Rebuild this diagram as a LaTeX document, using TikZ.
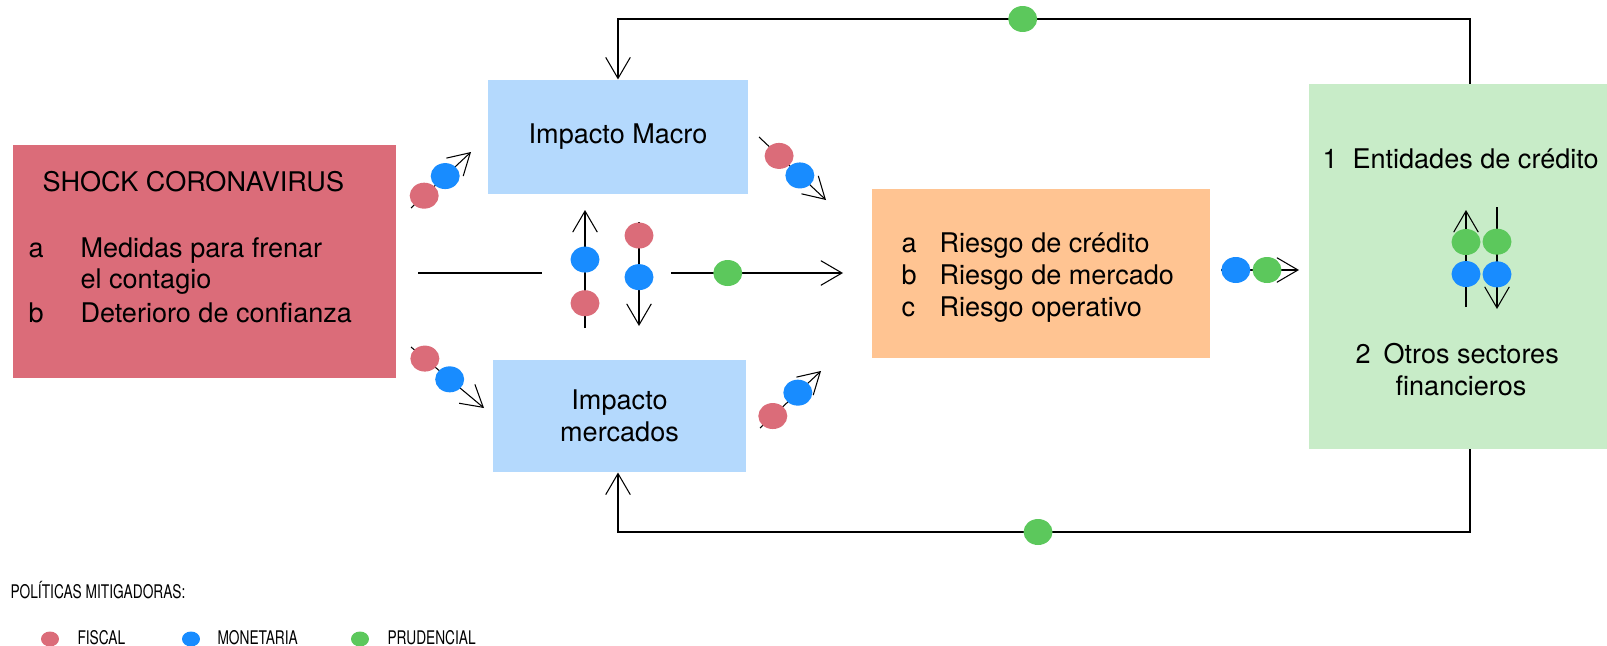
\documentclass[tikz,border=0pt]{standalone}
\usepackage{fontspec}
\setmainfont{TeX Gyre Heros}
\newfontfamily\condfont[FakeStretch=0.73]{TeX Gyre Heros}
\usetikzlibrary{shapes.geometric,arrows.meta}

\definecolor{shockred}{RGB}{219,108,121}
\definecolor{macroblue}{RGB}{180,217,253}
\definecolor{riskorange}{RGB}{255,196,146}
\definecolor{sectorgreen}{RGB}{200,236,200}
\definecolor{polred}{RGB}{219,108,121}
\definecolor{polblue}{RGB}{24,140,255}
\definecolor{polgreen}{RGB}{92,200,92}

\begin{document}
\begin{tikzpicture}[x=0.02cm,y=-0.02cm,line width=0.6pt,
        >={Straight Barb[length=12pt,width=14pt]},
        font=\fontsize{15.4}{18.2}\selectfont,
        panel/.style={rectangle,inner sep=0pt,align=center},
        txt/.style={anchor=base west,inner sep=0pt},
        pol/.style={ellipse,inner sep=0pt,minimum width=0.58cm,minimum height=0.52cm},
        fiscal/.style={pol,fill=polred},
        monetaria/.style={pol,fill=polblue},
        prudencial/.style={pol,fill=polgreen}]
        \useasboundingbox (0,0) rectangle (1607,646);

        % the boxes
        \node[panel,fill=shockred,minimum width=7.66cm,minimum height=4.66cm] (shock) at (204.5,261.5) {};
        \node[panel,fill=macroblue,minimum width=5.2cm,minimum height=2.28cm] (macro) at (618,137) {Impacto Macro};
        \node[panel,fill=macroblue,minimum width=5.06cm,minimum height=2.24cm] (mercados) at (619.5,416) {Impacto\\mercados};
        \node[panel,fill=riskorange,minimum width=6.76cm,minimum height=3.38cm] (riesgo) at (1041,273.5) {};
        \node[panel,fill=sectorgreen,minimum width=5.96cm,minimum height=7.3cm] (sectores) at (1458,266.5) {};

        % texts of the shock box
        \node[txt] (shock-title) at (42,191) {SHOCK CORONAVIRUS};
        \foreach \l/\t/\y in {a/Medidas para frenar/257, b/Deterioro de confianza/322} {
                \node[txt] (shock-\l) at (28,\y) {\l};
                \node[txt] (shock-\l-text) at (80,\y) {\t};
        }
        \node[txt] (shock-a-more) at (80,288) {el contagio};

        % texts of the risk box
        \foreach \l/\t/\y in {a/Riesgo de crédito/252, b/Riesgo de mercado/284, c/Riesgo operativo/316} {
                \node[txt] (riesgo-\l) at (901,\y) {\l};
                \node[txt] (riesgo-\l-text) at (939,\y) {\t};
        }

        % texts of the sectors box
        \node[txt] (sector-1) at (1322,168) {1};
        \node[txt] (sector-1-text) at (1352,168) {Entidades de crédito};
        \node[txt] (sector-2) at (1355,363) {2};
        \node[txt] (sector-2-text) at (1383,363) {Otros sectores};
        \node[anchor=base,inner sep=0pt] (sector-2-more) at (1461,395) {financieros};

        % diagonal arrows
        \coordinate (s1a) at (411,208); \coordinate (s1b) at (471,152);
        \coordinate (s2a) at (411,347); \coordinate (s2b) at (484,408);
        \coordinate (m1a) at (759,137); \coordinate (m1b) at (826,200);
        \coordinate (m2a) at (760,428); \coordinate (m2b) at (821,371);
        \draw[->] (s1a) -- (s1b) node[fiscal,pos=0.22] (s1-f) {} node[monetaria,pos=0.57] (s1-m) {};
        \draw[->] (s2a) -- (s2b) node[fiscal,pos=0.19] (s2-f) {} node[monetaria,pos=0.53] (s2-m) {};
        \draw[->] (m1a) -- (m1b) node[fiscal,pos=0.30] (m1-f) {} node[monetaria,pos=0.61] (m1-m) {};
        \draw[->] (m2a) -- (m2b) node[fiscal,pos=0.21] (m2-f) {} node[monetaria,pos=0.62] (m2-m) {};

        % the middle line with up and down arrows
        \coordinate (c1a) at (418,273); \coordinate (c1b) at (542,273);
        \coordinate (upa) at (585,328); \coordinate (upb) at (585,210);
        \coordinate (dna) at (639,222); \coordinate (dnb) at (639,326);
        \coordinate (c2a) at (671,273); \coordinate (c2b) at (843,273);
        \draw (c1a) -- (c1b);
        \draw[->] (upa) -- (upb) node[fiscal,pos=0.21] (up-f) {} node[monetaria,pos=0.58] (up-m) {};
        \draw[->] (dna) -- (dnb) node[fiscal,pos=0.13] (dn-f) {} node[monetaria,pos=0.53] (dn-m) {};
        \draw[->] (c2a) -- (c2b) node[prudencial,pos=0.33] (c2-p) {};

        % risks to sectors
        \coordinate (r1a) at (1221,270); \coordinate (r1b) at (1299,270);
        \draw[->] (r1a) -- (r1b) node[monetaria,pos=0.19] (r1-m) {} node[prudencial,pos=0.59] (r1-p) {};

        % arrows inside the sectors box
        \coordinate (gua) at (1466,307); \coordinate (gub) at (1466,210);
        \coordinate (gda) at (1497,207); \coordinate (gdb) at (1497,309);
        \draw[->] (gua) -- (gub) node[monetaria,pos=0.34] (gu-m) {} node[prudencial,pos=0.67] (gu-p) {};
        \draw[->] (gda) -- (gdb) node[prudencial,pos=0.34] (gd-p) {} node[monetaria,pos=0.66] (gd-m) {};

        % feedback loops
        \coordinate (topR) at (1470,19); \coordinate (topL) at (618,19);
        \coordinate (botR) at (1470,532); \coordinate (botL) at (618,532);
        \draw[->] (sectores.north -| topR) -- (topR) -- (topL) node[prudencial,pos=0.525] (top-p) {} -- (macro.north -| topL);
        \draw[->] (sectores.south -| botR) -- (botR) -- (botL) node[prudencial,pos=0.507] (bot-p) {} -- (mercados.south -| botL);

        % legend
        \node[txt,font=\condfont\fontsize{10.7}{12}\selectfont] (legend-title) at (10,598) {POLÍTICAS MITIGADORAS:};
        \foreach \s/\x/\dx/\t in {fiscal/50/27/FISCAL, monetaria/191/26/MONETARIA, prudencial/360/27/PRUDENCIAL} {
                \node[\s,minimum width=0.36cm,minimum height=0.30cm] (legend-\s) at (\x,639) {};
                \node[txt,font=\condfont\fontsize{10.7}{12}\selectfont] (legend-\s-text) at (\x+\dx,644) {\t};
        }
\end{tikzpicture}
\end{document}
